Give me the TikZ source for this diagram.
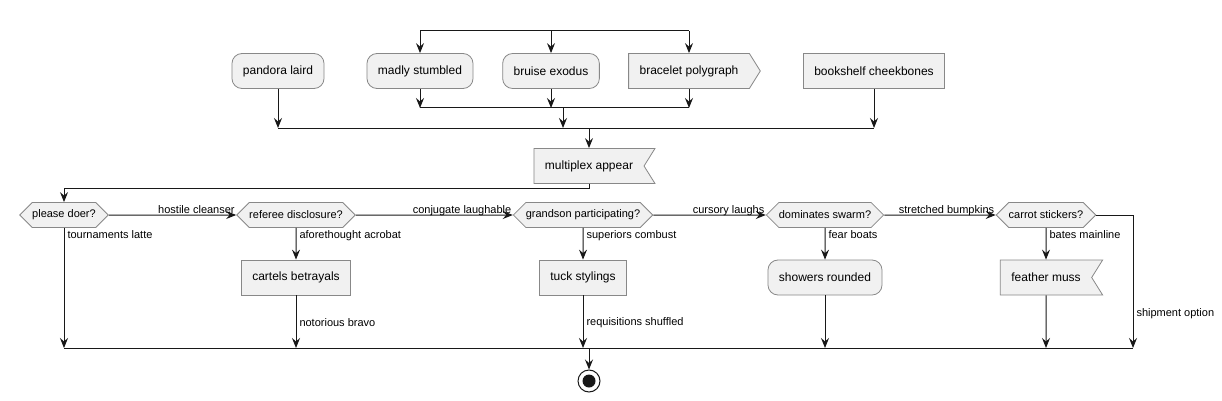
\documentclass[tikz,border=0pt]{standalone}
\usepackage{fontspec}
\setmainfont{Liberation Sans}
\usetikzlibrary{arrows.meta,shapes.symbols,positioning}
\definecolor{uml_fill}{RGB}{241,241,241}
\definecolor{uml_edge}{RGB}{136,136,136}
\definecolor{uml_line}{RGB}{24,24,24}

\begin{document}
\begin{tikzpicture}[x=1pt, y=-1pt,
      act/.style={draw=uml_edge, fill=uml_fill, rounded corners=10pt, line width=0.8pt,
                  minimum height=35pt, inner xsep=11pt, font=\fontsize{12}{14}\selectfont},
      task/.style={act, sharp corners},
      sendbox/.style={task, shape=signal, signal to=east, signal pointer angle=116},
      recvbox/.style={task, shape=signal, signal to=nowhere, signal from=east, signal pointer angle=116},
      decide/.style={draw=uml_edge, fill=uml_fill, line width=0.8pt, shape=signal, signal to=east and west,
                  minimum height=25pt, inner xsep=0pt, font=\fontsize{11}{13}\selectfont},
      flow/.style={draw=uml_line, line width=1pt, -{Stealth[length=10pt,width=8pt,inset=3.5pt]}},
      bar/.style={draw=uml_line, line width=1pt},
      lbl/.style={font=\fontsize{11}{13}\selectfont, inner sep=1pt}]
    \useasboundingbox (0,0) rectangle (1222,401);
    \node[act] (pandora) at (278,71) {pandora laird};
    \node[act] (madly) at (420,71) {madly stumbled};
    \node[act] (bruise) at (551,71) {bruise exodus};
    \node[sendbox] (bracelet) at (689,71) {bracelet polygraph};
    \node[task] (bookshelf) at (874,71) {bookshelf cheekbones};
    \coordinate (forkL) at (420,31);
    \coordinate (forkR) at (689,31);
    \coordinate (joinL) at (420,108);
    \coordinate (joinR) at (689,108);
    \coordinate (joinMid) at (563,108);
    \coordinate (mergeL) at (278,128);
    \coordinate (mergeR) at (874,128);
    \coordinate (mergeMid) at (589,128);
    \draw[bar] (forkL) -- (forkR);
    \draw[flow] (forkL) -- (madly);
    \draw[flow] (bruise |- forkL) -- (bruise);
    \draw[flow] (forkR) -- (bracelet);
    \draw[flow] (madly) -- (joinL);
    \draw[flow] (bruise) -- (bruise |- joinL);
    \draw[flow] (bracelet) -- (joinR);
    \draw[bar] (joinL) -- (joinR);
    \draw[flow] (joinMid) -- (joinMid |- mergeL);
    \draw[flow] (pandora) -- (mergeL);
    \draw[flow] (bookshelf) -- (mergeR);
    \draw[bar] (mergeL) -- (mergeR);
    \node[recvbox] (multiplex) at (589,166) {multiplex appear};
    \draw[flow] (mergeMid) -- (multiplex);

    \node[decide] (please) at (64,215) {please doer?};
    \node[decide] (referee) at (296,215) {referee disclosure?};
    \node[decide] (grandson) at (583,215) {grandson participating?};
    \node[decide] (dominates) at (825,215) {dominates swarm?};
    \node[decide] (carrot) at (1046,215) {carrot stickers?};
    \draw[flow] (multiplex.south) -- ++(0,5) -| (please);
    \draw[flow] (please) -- node[lbl, at end, anchor=base east, yshift=2pt] {hostile cleanser} (referee);
    \draw[flow] (referee) -- node[lbl, at end, anchor=base east, yshift=2pt] {conjugate laughable} (grandson);
    \draw[flow] (grandson) -- node[lbl, at end, anchor=base east, yshift=2pt] {cursory laughs} (dominates);
    \draw[flow] (dominates) -- node[lbl, at end, anchor=base east, yshift=2pt] {stretched bumpkins} (carrot);

    \node[task] (cartels) at (296,277.5) {cartels betrayals};
    \node[task] (tuck) at (583,277.5) {tuck stylings};
    \node[act] (showers) at (825,277.5) {showers rounded};
    \node[recvbox] (feather) at (1046,277.5) {feather muss};
    \coordinate (endL) at (64,348);
    \coordinate (endR) at (1133,348);
    \coordinate (endMid) at (589,348);
    \draw[flow] (please) -- node[lbl, at start, anchor=north west, xshift=2pt, yshift=-1.5pt] {tournaments latte} (please |- endL);
    \draw[flow] (referee) -- node[lbl, at start, anchor=north west, xshift=2pt, yshift=-1.5pt] {aforethought acrobat} (cartels);
    \draw[flow] (grandson) -- node[lbl, at start, anchor=north west, xshift=2pt, yshift=-1.5pt] {superiors combust} (tuck);
    \draw[flow] (dominates) -- node[lbl, at start, anchor=north west, xshift=2pt, yshift=-1.5pt] {fear boats} (showers);
    \draw[flow] (carrot) -- node[lbl, at start, anchor=north west, xshift=2pt, yshift=-1.5pt] {bates mainline} (feather);
    \draw[flow] (cartels) -- node[lbl, midway, anchor=west, xshift=2pt, yshift=-1pt] {notorious bravo} (cartels |- endL);
    \draw[flow] (tuck) -- node[lbl, midway, anchor=west, xshift=2pt, yshift=-1pt] {requisitions shuffled} (tuck |- endL);
    \draw[flow] (showers) -- (showers |- endL);
    \draw[flow] (feather) -- (feather |- endL);
    \draw[flow] (carrot.east) -- (endR |- carrot.east) -- node[lbl, pos=0.74, anchor=west, xshift=2pt] {shipment option} (endR);
    \draw[bar] (endL) -- (endR);
    \node[circle, draw=uml_line, line width=1pt, fill=white, minimum size=22pt, inner sep=0pt] (stop) at (589,381) {};
    \node[circle, fill=uml_line, minimum size=13pt, inner sep=0pt] (stopdot) at (stop) {};
    \draw[flow] (endMid) -- (stop);
  \end{tikzpicture}
\end{document}
